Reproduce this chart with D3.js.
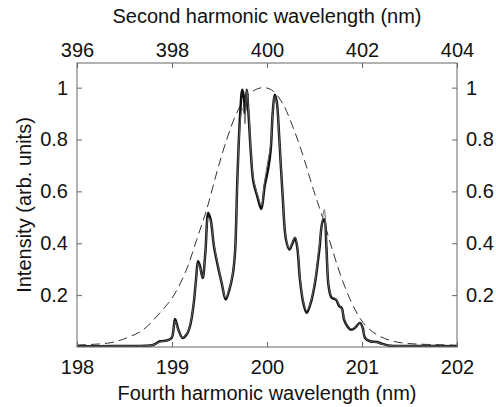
<!DOCTYPE html>
<html>
<head>
<meta charset="utf-8">
<script src="https://cdn.jsdelivr.net/npm/d3@7"></script>
<style>
  body { margin: 0; background: #fff; }
  text { font-family: "Liberation Sans", Arial, sans-serif; }
</style>
</head>
<body>
<svg id="svg"></svg>
<script>
// fourth harmonic spectrum, thick trace (nm, arb. units)
const measX = [198.0, 198.4, 198.8, 198.874, 198.944, 198.996, 199.032, 199.067, 199.112, 199.154,
  199.189, 199.225, 199.253, 199.274, 199.295, 199.323, 199.351, 199.382, 199.407, 199.442,
  199.477, 199.523, 199.565, 199.604, 199.639, 199.663, 199.688, 199.716, 199.74, 199.758,
  199.768, 199.786, 199.807, 199.828, 199.856, 199.898, 199.94, 199.975, 200.011, 200.039,
  200.06, 200.081, 200.102, 200.13, 200.165, 200.2, 200.235, 200.263, 200.295, 200.319,
  200.347, 200.382, 200.418, 200.46, 200.505, 200.551, 200.586, 200.604, 200.625, 200.649,
  200.681, 200.726, 200.761, 200.786, 200.811, 200.846, 200.881, 200.926, 200.979, 201.007,
  201.032, 201.084, 201.154, 201.207, 201.277, 201.6, 202.0];
const measY = [0.003, 0.004, 0.008, 0.022, 0.025, 0.035, 0.108, 0.067, 0.035, 0.048,
  0.08, 0.157, 0.26, 0.331, 0.311, 0.266, 0.363, 0.517, 0.491, 0.388,
  0.322, 0.247, 0.183, 0.221, 0.279, 0.363, 0.645, 0.889, 0.992, 0.96,
  0.902, 0.992, 0.889, 0.761, 0.639, 0.581, 0.532, 0.62, 0.684, 0.761,
  0.902, 0.973, 0.947, 0.799, 0.581, 0.414, 0.376, 0.395, 0.42, 0.382,
  0.26, 0.17, 0.132, 0.17, 0.247, 0.376, 0.485, 0.491, 0.388, 0.234,
  0.19, 0.183, 0.157, 0.151, 0.106, 0.08, 0.067, 0.074, 0.093, 0.074,
  0.035, 0.022, 0.019, 0.013, 0.006, 0.004, 0.003];
// second, thinner trace at the same wavelengths
const retrY = [0.003, 0.004, 0.008, 0.02, 0.024, 0.036, 0.1, 0.065, 0.036, 0.05,
  0.085, 0.16, 0.255, 0.322, 0.305, 0.27, 0.36, 0.5, 0.485, 0.395,
  0.33, 0.25, 0.19, 0.225, 0.285, 0.37, 0.63, 0.86, 0.92, 0.9,
  0.86, 0.99, 0.91, 0.77, 0.65, 0.59, 0.545, 0.64, 0.72, 0.78,
  0.9, 0.965, 0.94, 0.8, 0.585, 0.42, 0.38, 0.4, 0.425, 0.39,
  0.27, 0.175, 0.14, 0.175, 0.255, 0.39, 0.5, 0.53, 0.4, 0.24,
  0.195, 0.185, 0.16, 0.15, 0.11, 0.083, 0.07, 0.076, 0.09, 0.072,
  0.036, 0.022, 0.018, 0.012, 0.006, 0.004, 0.003];
// dashed envelope
const envX = [198.0, 198.347, 198.523, 198.698, 198.874, 199.014, 199.154, 199.26, 199.365, 199.47,
  199.575, 199.681, 199.786, 199.891, 199.979, 200.067, 200.172, 200.277, 200.382, 200.488,
  200.593, 200.698, 200.804, 200.909, 201.014, 201.154, 201.33, 201.505, 201.681, 202.0];
const envY = [0.008, 0.016, 0.035, 0.067, 0.132, 0.196, 0.3, 0.414, 0.53, 0.671,
  0.799, 0.902, 0.966, 0.994, 1.0, 0.986, 0.934, 0.844, 0.735, 0.607,
  0.491, 0.363, 0.247, 0.157, 0.093, 0.048, 0.022, 0.013, 0.01, 0.007];

const bottomTicks = [198, 199, 200, 201, 202];
const topTicks = [396, 398, 400, 402, 404];
const yTicks = [0.2, 0.4, 0.6, 0.8, 1];

const layout = {width: 496, height: 407, left: 77, right: 457, top: 63, bottom: 347, font: 20};

const svg = d3.select("#svg").attr("width", layout.width).attr("height", layout.height);

const x = d3.scaleLinear().domain([198, 202]).range([layout.left, layout.right]);
const x2 = d3.scaleLinear().domain([396, 404]).range([layout.left, layout.right]);
const y = d3.scaleLinear().domain([0, 1.095]).range([layout.bottom, layout.top]);

svg.append("defs").append("clipPath").attr("id", "clip")
  .append("rect")
  .attr("x", layout.left).attr("y", layout.top)
  .attr("width", layout.right - layout.left).attr("height", layout.bottom - layout.top);

const line = d3.line().x(d => x(d[0])).y(d => y(d[1])).curve(d3.curveCatmullRom.alpha(0.5));

const plot = svg.append("g").attr("clip-path", "url(#clip)");

plot.append("path")
  .datum(envX.map((v, i) => [v, envY[i]]))
  .attr("d", line)
  .attr("fill", "none")
  .attr("stroke", "#333")
  .attr("stroke-width", 1)
  .attr("stroke-dasharray", "9,5");

plot.append("path")
  .datum(measX.map((v, i) => [v, measY[i]]))
  .attr("d", line)
  .attr("fill", "none")
  .attr("stroke", "#111")
  .attr("stroke-width", 2.5)
  .attr("stroke-linejoin", "round");

plot.append("path")
  .datum(measX.map((v, i) => [v, retrY[i]]))
  .attr("d", line)
  .attr("fill", "none")
  .attr("stroke", "#666")
  .attr("stroke-width", 1);

function styleAxis(g) {
  g.select(".domain").remove();
  g.selectAll(".tick line").attr("stroke", "#666");
  g.selectAll(".tick text").attr("fill", "#111").attr("font-size", layout.font)
    .attr("font-family", "'Liberation Sans', Arial, sans-serif");
}

const yFormat = d => d === 1 ? "1" : d3.format(".1f")(d);

svg.append("g").attr("transform", `translate(0,${layout.bottom})`)
  .call(d3.axisBottom(x).tickValues(bottomTicks).tickFormat(d3.format("d")).tickSize(-5).tickPadding(13))
  .call(styleAxis);

svg.append("g").attr("transform", `translate(0,${layout.top})`)
  .call(d3.axisTop(x2).tickValues(topTicks).tickFormat(d3.format("d")).tickSize(-5).tickPadding(6.5))
  .call(styleAxis);

svg.append("g").attr("transform", `translate(${layout.left},0)`)
  .call(d3.axisLeft(y).tickValues(yTicks).tickFormat(yFormat).tickSize(-5).tickPadding(9))
  .call(styleAxis);

svg.append("g").attr("transform", `translate(${layout.right},0)`)
  .call(d3.axisRight(y).tickValues(yTicks).tickFormat(yFormat).tickSize(-5).tickPadding(9))
  .call(styleAxis);

// frame
svg.append("rect")
  .attr("x", layout.left).attr("y", layout.top)
  .attr("width", layout.right - layout.left).attr("height", layout.bottom - layout.top)
  .attr("fill", "none").attr("stroke", "#666").attr("stroke-width", 1);

svg.append("text")
  .attr("x", (layout.left + layout.right) / 2).attr("y", 400)
  .attr("text-anchor", "middle").attr("font-size", layout.font).attr("fill", "#111")
  .text("Fourth harmonic wavelength (nm)");

svg.append("text")
  .attr("x", (layout.left + layout.right) / 2).attr("y", 23)
  .attr("text-anchor", "middle").attr("font-size", layout.font).attr("fill", "#111")
  .text("Second harmonic wavelength (nm)");

svg.append("text")
  .attr("transform", `translate(31,${(layout.top + layout.bottom) / 2}) rotate(-90)`)
  .attr("text-anchor", "middle").attr("font-size", layout.font).attr("fill", "#111")
  .text("Intensity (arb. units)");
</script>
</body>
</html>
